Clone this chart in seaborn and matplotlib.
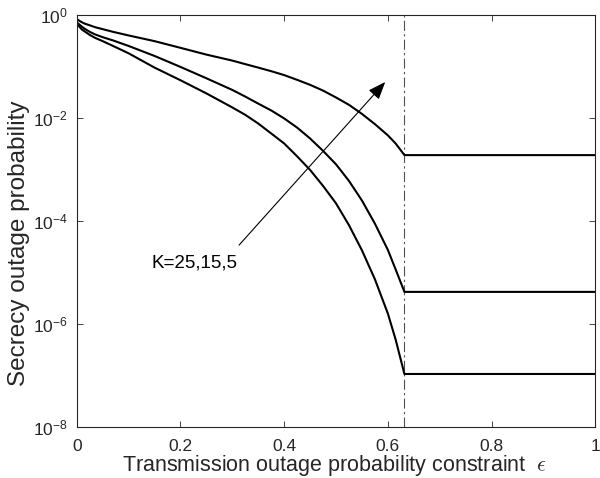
import matplotlib
matplotlib.use("Agg")
import matplotlib.pyplot as plt
import pandas as pd
import seaborn as sns
from matplotlib.ticker import (FixedLocator, FixedFormatter, NullLocator,
                               LogFormatterSciNotation)

# Transmission outage constraint (x) and secrecy outage probability per K
eps = [0, 0.005, 0.01, 0.015, 0.025, 0.035, 0.05, 0.07, 0.1, 0.15, 0.2,
       0.25, 0.3, 0.325, 0.35, 0.375, 0.4, 0.425, 0.45, 0.475, 0.5, 0.525,
       0.55, 0.575, 0.6, 0.615, 0.632, 1.0]
p_k5 = [0.83, 0.77, 0.72, 0.68, 0.63, 0.58, 0.53, 0.47, 0.40, 0.31, 0.23,
        0.17, 0.13, 0.111, 0.095, 0.081, 0.068, 0.055, 0.044, 0.034,
        0.025, 0.018, 0.012, 7.6e-3, 4.6e-3, 3.2e-3, 1.9e-3, 1.9e-3]
p_k15 = [0.72, 0.65, 0.59, 0.54, 0.47, 0.42, 0.37, 0.32, 0.25, 0.16,
         0.098, 0.059, 0.035, 0.026, 0.019, 0.014, 9.8e-3, 6.5e-3, 4.0e-3,
         2.3e-3, 1.26e-3, 6.0e-4, 2.5e-4, 8.9e-5, 2.75e-5, 1.15e-5, 4.2e-6,
         4.2e-6]
p_k25 = [0.68, 0.59, 0.52, 0.48, 0.41, 0.36, 0.31, 0.25, 0.18, 0.095,
         0.054, 0.030, 0.016, 0.0115, 7.8e-3, 5.0e-3, 3.2e-3, 1.8e-3,
         9.8e-4, 4.8e-4, 2.2e-4, 8.3e-5, 2.7e-5, 7.4e-6, 1.6e-6, 5.0e-7,
         1.07e-7, 1.07e-7]
k_values = [5, 15, 25]
eps_limit = 0.632

x_ticks = [0, 0.2, 0.4, 0.6, 0.8, 1]
x_tick_labels = ["0", "0.2", "0.4", "0.6", "0.8", "1"]
y_ticks = [1e-8, 1e-6, 1e-4, 1e-2, 1]

annot_text = "K=25,15,5"
annot_text_xy = (0.144, 1.26e-5)
arrow_tail = (0.313, 3.4e-5)
arrow_head = (0.595, 5.0e-2)

sns.set_theme(style="white")
plt.rcParams["font.family"] = ["Liberation Sans", "DejaVu Sans"]

df = pd.concat([
    pd.DataFrame({"eps": eps, "p": vals, "K": k})
    for k, vals in zip(k_values, [p_k5, p_k15, p_k25])
], ignore_index=True)

fig = plt.figure(figsize=(6.0, 4.78), dpi=100)
ax = fig.add_axes([0.128, 0.1067, 0.864, 0.862])

sns.lineplot(data=df, x="eps", y="p", hue="K", units="K", estimator=None,
             sort=False, palette={k: "black" for k in k_values},
             linewidth=1.5, legend=False, ax=ax)

ax.axvline(eps_limit, color="#505050", linewidth=0.8,
           linestyle=(0, (9, 3, 2, 3)), zorder=1)

ax.set_yscale("log")
ax.set_xlim(0, 1)
ax.set_ylim(1e-8, 1)
ax.xaxis.set_major_locator(FixedLocator(x_ticks))
ax.xaxis.set_major_formatter(FixedFormatter(x_tick_labels))
ax.yaxis.set_major_locator(FixedLocator(y_ticks))
ax.yaxis.set_major_formatter(LogFormatterSciNotation())
ax.yaxis.set_minor_locator(NullLocator())

for s in ax.spines.values():
    s.set_color("#262626")
    s.set_linewidth(0.8)
    s.set_visible(True)

ax.tick_params(which="major", direction="in", length=4, width=0.6,
               top=True, right=True, bottom=True, left=True,
               labelsize=12.5, colors="#262626")
ax.tick_params(axis="x", pad=9)
ax.tick_params(axis="y", pad=6.5)

ax.set_xlabel("Transmission outage probability constraint  $\\epsilon$",
              fontsize=15.5, color="#262626", math_fontfamily="cm")
ax.set_ylabel("Secrecy outage probability", fontsize=17.5, color="#262626")
ax.xaxis.set_label_coords(0.497, -0.064)
ax.yaxis.set_label_coords(-0.09, 0.447)

ax.annotate("", xy=arrow_head, xytext=arrow_tail,
            arrowprops=dict(arrowstyle="-|>,head_length=0.9,head_width=0.35",
                            color="black", linewidth=0.8,
                            shrinkA=0, shrinkB=0))
ax.text(*annot_text_xy, annot_text, fontsize=13.5, ha="left",
        va="baseline", color="black")

fig.savefig("out.png", dpi=100, facecolor="white")
